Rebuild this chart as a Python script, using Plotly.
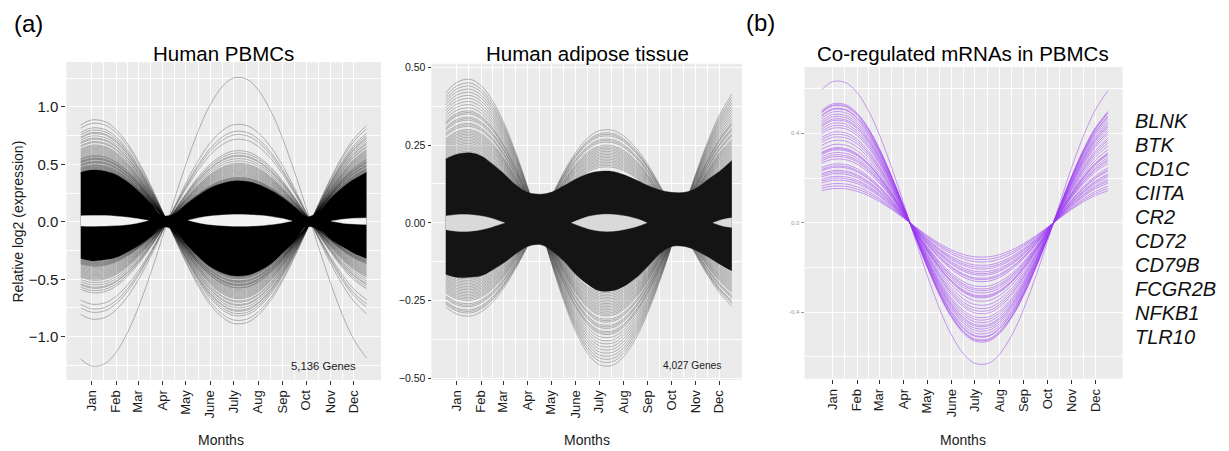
import plotly.graph_objects as go

# ---------------- data ----------------
DAYS = [1, 15, 32, 46, 60, 74, 91, 105, 121, 135, 152, 166, 182, 196,
        213, 227, 244, 258, 274, 288, 305, 319, 335, 349, 365]
MONTH_DAYS = [15, 46, 74, 105, 135, 166, 196, 227, 258, 288, 319, 349]
MONTH_LABELS = ["Jan", "Feb", "Mar", "Apr", "May", "June", "July", "Aug",
                "Sep", "Oct", "Nov", "Dec"]

# Human PBMCs: shared seasonal shape, dense core envelope, individual fringe genes
PBMC_SHAPE = [0.947, 0.996, 0.979, 0.902, 0.772, 0.598, 0.342, 0.107, -0.167,
              -0.397, -0.645, -0.809, -0.938, -0.994, -0.984, -0.912, -0.755,
              -0.577, -0.333, -0.099, 0.193, 0.421, 0.652, 0.814, 0.941]
PBMC_CORE_UPPER = [0.43, 0.45, 0.44, 0.41, 0.35, 0.27, 0.155, 0.055, 0.07, 0.15,
                   0.235, 0.295, 0.335, 0.355, 0.35, 0.325, 0.27, 0.21, 0.125, 0.045,
                   0.09, 0.20, 0.30, 0.37, 0.43]
PBMC_CORE_LOWER = [-0.32, -0.34, -0.33, -0.31, -0.265, -0.21, -0.125, -0.045,
                   -0.08, -0.19, -0.31, -0.39, -0.445, -0.47, -0.465, -0.43,
                   -0.36, -0.27, -0.165, -0.045, -0.07, -0.15, -0.22, -0.275, -0.32]
PBMC_FRINGE_AMPS = [0.89, 0.86, 0.82, 0.80, 0.78, 0.77, 0.75, 0.73, 0.72, 0.70,
                    0.69, 0.67, 0.66, 0.65, 0.64, 0.63, 0.62, 0.61, 0.60, 0.59,
                    0.58, 0.575, 0.57, 0.56, 0.555, 0.55, 0.545, 0.54, 0.53,
                    0.525, 0.52, 0.515, 0.51, 0.50, 0.495, 0.49, 0.485, 0.48,
                    0.475, 0.47, 0.465, 0.46, 0.455, 0.45, 0.445,
                    -1.26, -0.85, -0.79, -0.76, -0.72, -0.62, -0.60, -0.58,
                    -0.57, -0.55, -0.53, -0.51, -0.50, -0.49, -0.48, -0.47,
                    -0.46, -0.45, -0.44, -0.43, -0.42, -0.41, -0.40, -0.39,
                    -0.385, -0.38, -0.375, -0.37, -0.365, -0.36, -0.355, -0.35,
                    -0.345]
PBMC_EYE1_DAYS = [1, 15, 32, 46, 60, 74, 87]
PBMC_EYE1_TOP = [0.052, 0.055, 0.054, 0.049, 0.040, 0.026, 0.012]
PBMC_EYE1_BOT = [-0.036, -0.038, -0.037, -0.033, -0.025, -0.010, 0.012]
PBMC_EYE2_DAYS = [138, 152, 166, 182, 196, 213, 227, 244, 258, 270]
PBMC_EYE2_TOP = [0.014, 0.036, 0.050, 0.059, 0.063, 0.062, 0.057, 0.045, 0.028, 0.006]
PBMC_EYE2_BOT = [0.014, -0.010, -0.025, -0.034, -0.038, -0.038, -0.034, -0.024, -0.010, 0.006]
PBMC_EYE3_DAYS = [320, 335, 349, 365]
PBMC_EYE3_TOP = [0.006, 0.022, 0.030, 0.034]
PBMC_EYE3_BOT = [0.006, -0.012, -0.019, -0.023]
PBMC_Y_TICKS = [-1.0, -0.5, 0.0, 0.5, 1.0]
PBMC_Y_LABELS = ["\u22121.0", "\u22120.5", "0.0", "0.5", "1.0"]

# Human adipose tissue
ADIPO_SHAPE = [0.902, 0.977, 0.998, 0.953, 0.854, 0.707, 0.475, 0.253, -0.018,
               -0.274, -0.557, -0.751, -0.911, -0.986, -0.991, -0.932, -0.791,
               -0.625, -0.394, -0.168, 0.115, 0.340, 0.574, 0.747, 0.895]
ADIPO_CORE_UPPER = [0.205, 0.22, 0.225, 0.215, 0.19, 0.16, 0.12, 0.098, 0.092,
                    0.098, 0.12, 0.14, 0.158, 0.165, 0.165, 0.155, 0.137, 0.12,
                    0.105, 0.098, 0.098, 0.11, 0.14, 0.165, 0.20]
ADIPO_CORE_LOWER = [-0.165, -0.175, -0.175, -0.17, -0.152, -0.13, -0.098, -0.076,
                    -0.07, -0.088, -0.125, -0.165, -0.198, -0.218, -0.218, -0.205,
                    -0.175, -0.14, -0.098, -0.076, -0.076, -0.088, -0.11, -0.132, -0.155]
ADIPO_FRINGE_AMPS = [0.462, 0.45, 0.44, 0.43, 0.42, 0.41, 0.40, 0.39, 0.38,
                     0.37, 0.36, 0.355, 0.35, 0.34, 0.335, 0.33, 0.32, 0.315,
                     0.31, 0.30, 0.295, 0.29, 0.285, 0.28, 0.275, 0.27, 0.265,
                     0.26, 0.255, 0.25, 0.245, 0.24, 0.235, 0.23, 0.225,
                     -0.30, -0.29, -0.285, -0.28, -0.27, -0.265, -0.26, -0.25,
                     -0.245, -0.24, -0.235, -0.23, -0.225, -0.22, -0.215, -0.21,
                     -0.205, -0.20, -0.195, -0.19, -0.185, -0.18]
ADIPO_EYE1_DAYS = [1, 15, 32, 46, 60, 76]
ADIPO_EYE1_TOP = [0.022, 0.026, 0.026, 0.022, 0.014, 0.0]
ADIPO_EYE1_BOT = [-0.022, -0.027, -0.027, -0.022, -0.013, 0.0]
ADIPO_EYE2_DAYS = [161, 182, 196, 213, 227, 244, 257]
ADIPO_EYE2_TOP = [0.0, 0.020, 0.026, 0.027, 0.023, 0.013, 0.0]
ADIPO_EYE2_BOT = [0.0, -0.019, -0.026, -0.027, -0.022, -0.012, 0.0]
ADIPO_EYE3_DAYS = [341, 352, 365]
ADIPO_EYE3_TOP = [0.0, 0.010, 0.016]
ADIPO_EYE3_BOT = [0.0, -0.009, -0.015]
ADIPO_Y_TICKS = [-0.50, -0.25, 0.0, 0.25, 0.50]
ADIPO_Y_LABELS = ["\u22120.50", "\u22120.25", "0.00", "0.25", "0.50"]

# Co-regulated mRNAs in PBMCs
PURPLE_SHAPE = [0.935, 0.993, 0.985, 0.916, 0.794, 0.625, 0.374, 0.142, -0.133,
                -0.366, -0.619, -0.788, -0.926, -0.989, -0.989, -0.926, -0.778,
                -0.605, -0.366, -0.133, 0.158, 0.390, 0.625, 0.793, 0.929]
PURPLE_AMPS = [0.636, 0.536, 0.530, 0.526, 0.514, 0.510, 0.499, 0.487, 0.477,
               0.467, 0.460, 0.448, 0.437, 0.426, 0.408, 0.397, 0.385, 0.370,
               0.352, 0.337, 0.332, 0.327, 0.315, 0.305, 0.297, 0.286, 0.264,
               0.255, 0.249, 0.235, 0.228, 0.220, 0.208, 0.200, 0.191, 0.176,
               0.165, 0.154]
PURPLE_Y_TICKS = [-0.4, 0.0, 0.4]
PURPLE_Y_LABELS = ["-0.4", "0.0", "0.4"]
GENES = ["BLNK", "BTK", "CD1C", "CIITA", "CR2", "CD72", "CD79B", "FCGR2B",
         "NFKB1", "TLR10"]

TITLES = ["Human PBMCs", "Human adipose tissue", "Co-regulated mRNAs in PBMCs"]
GENE_COUNTS = ["5,136 Genes", "4,027 Genes"]

# ---------------- layout helpers ----------------
W, H = 1229, 451
FONT = "Liberation Sans, Arial, Helvetica, sans-serif"


def fx(px):
    return px / W


def fy(py):
    return 1 - py / H


fig = go.Figure()


def add_band(ax, days, lower, upper, color):
    xa, ya = ax
    fig.add_trace(go.Scatter(x=days, y=lower, mode="lines", xaxis=xa, yaxis=ya,
                             line=dict(color=color, width=0.4, shape="spline"),
                             hoverinfo="skip"))
    fig.add_trace(go.Scatter(x=days, y=upper, mode="lines", xaxis=xa, yaxis=ya,
                             line=dict(color=color, width=0.4, shape="spline"),
                             fill="tonexty", fillcolor=color, hoverinfo="skip"))


def add_gene_lines(ax, shape, amps, color, width):
    xa, ya = ax
    for a in amps:
        fig.add_trace(go.Scatter(x=DAYS, y=[a * s for s in shape], mode="lines",
                                 xaxis=xa, yaxis=ya,
                                 line=dict(color=color, width=width, shape="spline"),
                                 hoverinfo="skip"))


# Panel 1: Human PBMCs
P1 = ("x", "y")
add_gene_lines(P1, PBMC_SHAPE, PBMC_FRINGE_AMPS, "rgba(0,0,0,0.36)", 0.75)
add_band(P1, DAYS, PBMC_CORE_LOWER, PBMC_CORE_UPPER, "#000000")
add_band(P1, PBMC_EYE1_DAYS, PBMC_EYE1_BOT, PBMC_EYE1_TOP, "#F4F4F4")
add_band(P1, PBMC_EYE2_DAYS, PBMC_EYE2_BOT, PBMC_EYE2_TOP, "#F4F4F4")
add_band(P1, PBMC_EYE3_DAYS, PBMC_EYE3_BOT, PBMC_EYE3_TOP, "#F4F4F4")

# Panel 2: Human adipose tissue
P2 = ("x2", "y2")
add_gene_lines(P2, ADIPO_SHAPE, ADIPO_FRINGE_AMPS, "rgba(20,20,20,0.38)", 0.75)
add_band(P2, DAYS, ADIPO_CORE_LOWER, ADIPO_CORE_UPPER, "#141414")
add_band(P2, ADIPO_EYE1_DAYS, ADIPO_EYE1_BOT, ADIPO_EYE1_TOP, "#D9D9D9")
add_band(P2, ADIPO_EYE2_DAYS, ADIPO_EYE2_BOT, ADIPO_EYE2_TOP, "#D9D9D9")
add_band(P2, ADIPO_EYE3_DAYS, ADIPO_EYE3_BOT, ADIPO_EYE3_TOP, "#D9D9D9")

# Panel 3: co-regulated mRNAs
P3 = ("x3", "y3")
add_gene_lines(P3, PURPLE_SHAPE, PURPLE_AMPS, "rgba(155,60,240,0.55)", 0.9)

# ---------------- axes ----------------
minor_x = [(MONTH_DAYS[i] + MONTH_DAYS[i + 1]) / 2 for i in range(len(MONTH_DAYS) - 1)]


def xaxis(domain, rng, anchor):
    return dict(domain=domain, range=rng, anchor=anchor,
                tickmode="array", tickvals=MONTH_DAYS, ticktext=MONTH_LABELS,
                tickangle=-90, ticks="outside", ticklen=4, tickwidth=1.3,
                tickcolor="#333333",
                tickfont=dict(family=FONT, size=13, color="#1a1a1a"),
                showgrid=True, gridcolor="#FFFFFF", gridwidth=1.1,
                zeroline=False, showline=False, fixedrange=True,
                minor=dict(tickvals=minor_x, showgrid=True, gridcolor="#FFFFFF",
                           gridwidth=0.5, ticklen=0))


def yaxis(domain, rng, anchor, vals, labels, fsize, fcolor, minor_vals, tlen, tcol):
    return dict(domain=domain, range=rng, anchor=anchor,
                tickmode="array", tickvals=vals, ticktext=labels,
                ticks="outside", ticklen=tlen, tickwidth=1.3, tickcolor=tcol,
                tickfont=dict(family=FONT, size=fsize, color=fcolor),
                showgrid=True, gridcolor="#FFFFFF", gridwidth=1.1,
                zeroline=False, showline=False, fixedrange=True,
                minor=dict(tickvals=minor_vals, showgrid=True, gridcolor="#FFFFFF",
                           gridwidth=0.5, ticklen=0))


fig.update_layout(
    width=W, height=H, margin=dict(l=0, r=0, t=0, b=0),
    paper_bgcolor="white", plot_bgcolor="#EBEBEB",
    showlegend=False, hovermode=False,
    xaxis=xaxis([fx(66.4), fx(381)], [-17.2, 383.4], "y"),
    yaxis=yaxis([fy(383), fy(60)], [-1.377, 1.39], "x", PBMC_Y_TICKS, PBMC_Y_LABELS,
                15, "#1a1a1a", [-1.25, -0.75, -0.25, 0.25, 0.75, 1.25], 4, "#333333"),
    xaxis2=xaxis([fx(431.5), fx(742)], [-17.1, 377.9], "y2"),
    yaxis2=yaxis([fy(383), fy(61.7)], [-0.505, 0.511], "x2", ADIPO_Y_TICKS, ADIPO_Y_LABELS,
                 10.5, "#1a1a1a", [-0.375, -0.125, 0.125, 0.375], 3, "#333333"),
    xaxis3=xaxis([fx(804.5), fx(1122.5)], [-20.8, 383.6], "y3"),
    yaxis3=yaxis([fy(381.7), fy(65)], [-0.698, 0.697], "x3", PURPLE_Y_TICKS, PURPLE_Y_LABELS,
                 6, "#9a9a9a", [-0.6, -0.2, 0.2, 0.6], 3, "#9a9a9a"),
)

# ---------------- text ----------------
ann = []


def text(t, x, y, size, xanchor="center", yanchor="middle", italic=False,
         angle=0, color="#000000"):
    ann.append(dict(text=t, x=fx(x), y=fy(y), xref="paper", yref="paper",
                    showarrow=False, xanchor=xanchor, yanchor=yanchor,
                    textangle=angle, borderpad=0,
                    font=dict(family=FONT, size=size, color=color,
                              style="italic" if italic else "normal")))


text("(a)", 28, 21, 24)
text("(b)", 760, 20, 24)
text(TITLES[0], 223.5, 51, 20.5)
text(TITLES[1], 587, 51, 20.5)
text(TITLES[2], 963, 51, 20.5)
text("Relative log2 (expression)", 18, 222, 14, angle=-90, color="#1a1a1a")
for cx in (221, 587, 963):
    text("Months", cx, 444, 14, color="#1a1a1a")
text(GENE_COUNTS[0], 357, 369, 11.3, xanchor="right", color="#1a1a1a")
text(GENE_COUNTS[1], 722, 368, 10.2, xanchor="right", color="#1a1a1a")
for i, g in enumerate(GENES):
    text(g, 1134, 120 + i * 24.4, 20, xanchor="left", italic=True, color="#111111")

fig.update_layout(annotations=ann)

fig.write_html("out.html",
               config={"displayModeBar": False},
               post_script="document.body.style.margin='0px';"
                           "document.body.style.overflow='hidden';")
